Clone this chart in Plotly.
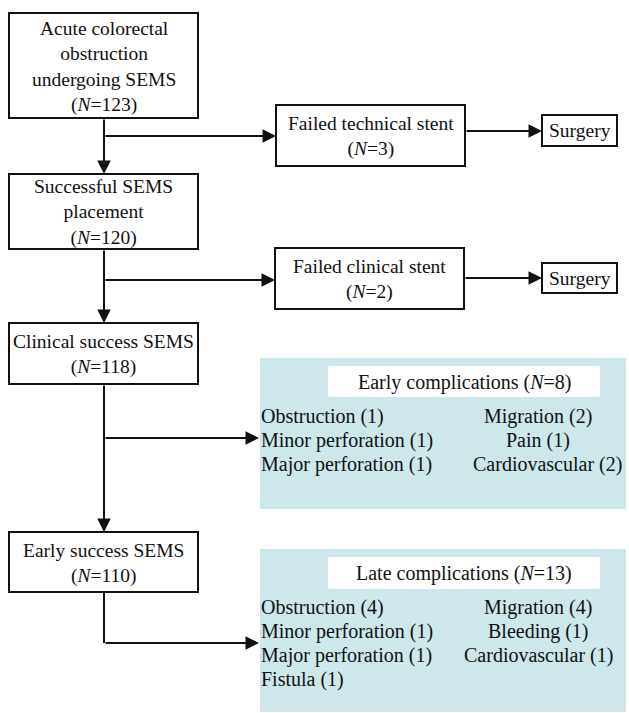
import plotly.graph_objects as go

# ---------------- data ----------------
main_steps = ["Acute colorectal<br>obstruction<br>undergoing SEMS",
              "Successful SEMS<br>placement",
              "Clinical success SEMS",
              "Early success SEMS"]
main_n = [123, 120, 118, 110]

fail_steps = ["Failed technical stent", "Failed clinical stent"]
fail_n = [3, 2]
fail_outcome = ["Surgery", "Surgery"]

early_title = "Early complications"
early_n = 8
early_left = ["Obstruction", "Minor perforation", "Major perforation"]
early_left_n = [1, 1, 1]
early_right = ["Migration", "Pain", "Cardiovascular"]
early_right_n = [2, 1, 2]

late_title = "Late complications"
late_n = 13
late_left = ["Obstruction", "Minor perforation", "Major perforation", "Fistula"]
late_left_n = [4, 1, 1, 1]
late_right = ["Migration", "Bleeding", "Cardiovascular"]
late_right_n = [4, 1, 1]

# ---------------- layout geometry (pixels, y downward) ----------------
W, H = 629, 713
FONT = "Liberation Serif"
FS = 19.5
FS_LIST = 20
INK = "#111111"
TEAL = "#CDE7EB"

main_boxes = [(9, 13, 198, 118), (9, 174, 198, 249), (9, 323, 198, 384), (9, 532, 198, 592)]
fail_boxes = [(276, 105, 465, 166), (275, 248, 464, 309)]
surg_boxes = [(542, 115, 617, 146), (542, 263, 617, 293)]
teal_boxes = [(260, 358, 626, 509), (260, 549, 626, 712)]
title_boxes = [(328, 366, 600, 397), (328, 557, 600, 589)]
spine_x = 104

shapes = []
annots = []


def rect(b, fill="white", line=INK, lw=2):
    shapes.append(dict(type="rect", xref="x", yref="y", x0=b[0], y0=b[1], x1=b[2], y1=b[3],
                       fillcolor=fill, line=dict(color=line, width=lw), layer="below"))


def seg(x0, y0, x1, y1):
    shapes.append(dict(type="line", xref="x", yref="y", x0=x0, y0=y0, x1=x1, y1=y1,
                       line=dict(color=INK, width=2)))


def arrow(x0, y0, x1, y1):
    annots.append(dict(x=x1, y=y1, ax=x0, ay=y0, xref="x", yref="y", axref="x", ayref="y",
                       text="", showarrow=True, arrowhead=2, arrowsize=1.35, arrowwidth=2,
                       arrowcolor=INK, standoff=0, startstandoff=0))


def label(x, y, txt, anchor="center", size=FS):
    annots.append(dict(x=x, y=y, xref="x", yref="y", text=txt, showarrow=False,
                       xanchor=anchor, yanchor="middle", align=anchor if anchor != "center" else "center",
                       font=dict(family=FONT, size=size, color=INK)))


def nlab(n):
    return "(<i>N</i>=%d)" % n


# main column boxes
for b, s, n in zip(main_boxes, main_steps, main_n):
    rect(b)
    label((b[0] + b[2]) / 2, (b[1] + b[3]) / 2 + 1, s + "<br>" + nlab(n))

# failure boxes and surgery
for b, s, n in zip(fail_boxes, fail_steps, fail_n):
    rect(b)
    label((b[0] + b[2]) / 2, (b[1] + b[3]) / 2 + 1, s + "<br>" + nlab(n))
for b, s in zip(surg_boxes, fail_outcome):
    rect(b)
    label((b[0] + b[2]) / 2, (b[1] + b[3]) / 2, s)

# complication panels
for tb, wb in zip(teal_boxes, title_boxes):
    rect(tb, fill=TEAL, line=TEAL, lw=0)
    rect(wb, fill="white", line="white", lw=0)

label(464, 382, early_title + " " + nlab(early_n), size=FS_LIST)
label(464, 573, late_title + " " + nlab(late_n), size=FS_LIST)

for i, (t, n) in enumerate(zip(early_left, early_left_n)):
    label(259, 416 + 24 * i, "%s (%d)" % (t, n), anchor="left", size=FS_LIST)
early_rx = [538, 538, 547]
for i, (t, n) in enumerate(zip(early_right, early_right_n)):
    label(early_rx[i], 416 + 24 * i, "%s (%d)" % (t, n), size=FS_LIST)

for i, (t, n) in enumerate(zip(late_left, late_left_n)):
    label(259, 607 + 24 * i, "%s (%d)" % (t, n), anchor="left", size=FS_LIST)
for i, (t, n) in enumerate(zip(late_right, late_right_n)):
    label(538, 607 + 24 * i, "%s (%d)" % (t, n), size=FS_LIST)

# connectors
arrow(spine_x, 118, spine_x, 174)
arrow(spine_x, 136, 276, 136)
arrow(465, 131, 542, 131)
arrow(spine_x, 249, spine_x, 323)
arrow(spine_x, 280, 275, 280)
arrow(464, 278, 542, 278)
arrow(spine_x, 384, spine_x, 532)
arrow(spine_x, 438, 259, 438)
seg(spine_x, 592, spine_x, 643)
arrow(spine_x, 643, 259, 643)

fig = go.Figure()
fig.add_trace(go.Scatter(x=[0, W], y=[0, H], mode="markers", marker=dict(opacity=0),
                         hoverinfo="skip", showlegend=False))
fig.update_layout(
    width=W, height=H, margin=dict(l=0, r=0, t=0, b=0),
    paper_bgcolor="white", plot_bgcolor="white",
    xaxis=dict(range=[0, W], visible=False, fixedrange=True),
    yaxis=dict(range=[H, 0], visible=False, fixedrange=True),
    shapes=shapes, annotations=annots, showlegend=False,
)
fig.write_html("out.html", config={"displayModeBar": False},
               post_script="document.body.style.margin='0px';document.body.style.overflow='hidden';")
